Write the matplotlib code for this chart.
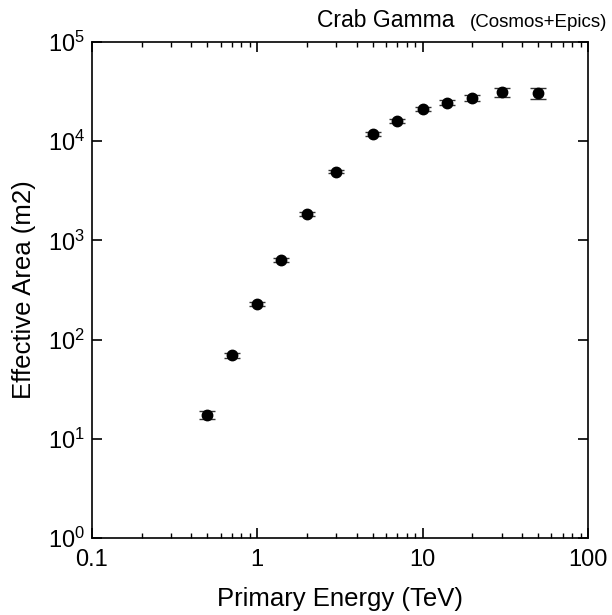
import numpy as np
import matplotlib
matplotlib.use("Agg")
import matplotlib.pyplot as plt
from matplotlib.ticker import FixedLocator, LogLocator, NullLocator, FuncFormatter

plt.rcParams["font.family"] = ["Liberation Sans", "DejaVu Sans"]
plt.rcParams["mathtext.fontset"] = "custom"
plt.rcParams["mathtext.rm"] = "Liberation Sans"
plt.rcParams["mathtext.it"] = "Liberation Sans"

# Crab gamma effective area (Cosmos+Epics)
energy = [0.5, 0.7, 1.0, 1.4, 2.0, 3.0, 5.0, 7.0, 10.0, 14.0, 20.0, 30.0, 50.0]
area = [17.5, 69.5, 229, 634, 1846, 4920, 11800, 15900, 21100, 24400, 27000, 31100, 30400]
area_err = [1.7, 4.5, 12, 30, 80, 200, 500, 700, 1000, 1300, 1800, 3200, 4000]

fig = plt.figure(figsize=(6.12, 6.15), dpi=100)
ax = fig.add_axes([0.150, 0.125, 0.811, 0.807])

ax.errorbar(energy, area, yerr=area_err, fmt="o", color="black", ms=7.5,
            ecolor="#333333", elinewidth=1.0, capsize=5.5, capthick=1.0)

ax.set_xscale("log")
ax.set_yscale("log")
ax.set_xlim(0.1, 100)
ax.set_ylim(1, 1e5)

ax.xaxis.set_major_locator(FixedLocator([0.1, 1, 10, 100]))
ax.xaxis.set_minor_locator(LogLocator(base=10, subs=np.arange(2, 10), numticks=20))
ax.xaxis.set_major_formatter(FuncFormatter(lambda v, p: f"{v:g}"))
ax.yaxis.set_major_locator(FixedLocator([1, 10, 100, 1e3, 1e4, 1e5]))
ax.yaxis.set_minor_locator(NullLocator())
ax.yaxis.set_major_formatter(FuncFormatter(lambda v, p: r"$10^{%d}$" % round(np.log10(v))))

ax.tick_params(which="both", direction="in", top=True, right=True, labelsize=17)
ax.tick_params(which="major", length=7.5, width=1.2)
ax.tick_params(which="minor", length=3.5, width=1.0)
ax.tick_params(axis="x", pad=8)
ax.tick_params(axis="y", pad=5)
for s in ax.spines.values():
    s.set_linewidth(1.2)

ax.set_xlabel("Primary Energy (TeV)", fontsize=18.5, labelpad=11)
ax.set_ylabel("Effective Area (m2)", fontsize=18.5, labelpad=8)

fig.text(0.631, 0.956, "Crab Gamma", fontsize=16.5, ha="center", va="baseline")
fig.text(0.768, 0.956, "(Cosmos+Epics)", fontsize=13.5, ha="left", va="baseline")

fig.savefig("out.png", dpi=100)
